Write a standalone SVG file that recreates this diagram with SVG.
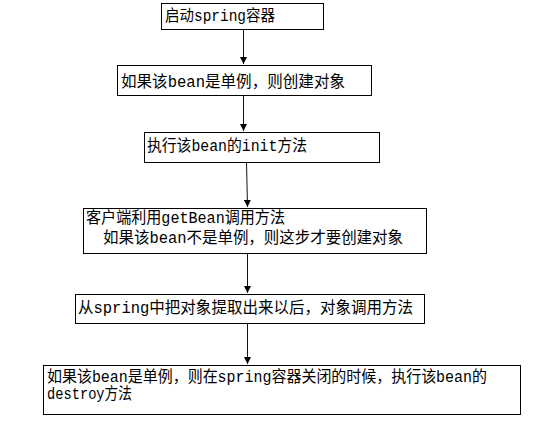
<svg xmlns="http://www.w3.org/2000/svg" width="539" height="425" viewBox="0 0 539 425">
  <style>
    .box { fill: #ffffff; stroke: #000000; stroke-width: 1; }
    .t { font-family: "Liberation Mono", "Noto Sans CJK SC", monospace; font-size: 16px; fill: #000000; }
    .edge { stroke: #111111; stroke-width: 1; fill: none; marker-end: url(#arrow); }
  </style>
  <defs>
    <marker id="arrow" viewBox="0 0 10 10" refX="10" refY="5" markerWidth="8" markerHeight="7" markerUnits="userSpaceOnUse" orient="auto">
      <path d="M0,0 L10,5 L0,10 z" fill="#000000"/>
    </marker>
  </defs>
  <rect width="539" height="425" fill="#ffffff"/>

  <g id="connectors">
    <line class="edge" x1="243.5" y1="29" x2="243.5" y2="64"/>
    <line class="edge" x1="243.5" y1="95" x2="243.5" y2="131"/>
    <line class="edge" x1="246.5" y1="162" x2="247.5" y2="207"/>
    <line class="edge" x1="247.5" y1="253" x2="247.5" y2="293"/>
    <line class="edge" x1="247.5" y1="323" x2="247.5" y2="364"/>
  </g>

  <g id="n1">
    <rect class="box" x="161.5" y="3.5" width="162" height="26"/>
    <text class="t" x="165" y="21" textLength="110" lengthAdjust="spacingAndGlyphs">启动spring容器</text>
  </g>
  <g id="n2">
    <rect class="box" x="117.5" y="65.5" width="254" height="30"/>
    <text class="t" x="121" y="87" textLength="224" lengthAdjust="spacingAndGlyphs">如果该bean是单例，则创建对象</text>
  </g>
  <g id="n3">
    <rect class="box" x="144.5" y="132.5" width="235" height="30"/>
    <text class="t" x="147" y="151" textLength="160" lengthAdjust="spacingAndGlyphs">执行该bean的init方法</text>
  </g>
  <g id="n4">
    <rect class="box" x="83.5" y="208.5" width="343" height="45"/>
    <text class="t" x="86" y="223" textLength="199" lengthAdjust="spacingAndGlyphs">客户端利用getBean调用方法</text>
    <text class="t" x="103" y="243" textLength="300" lengthAdjust="spacingAndGlyphs">如果该bean不是单例，则这步才要创建对象</text>
  </g>
  <g id="n5">
    <rect class="box" x="75.5" y="294.5" width="349" height="29"/>
    <text class="t" x="78" y="313" textLength="335" lengthAdjust="spacingAndGlyphs">从spring中把对象提取出来以后，对象调用方法</text>
  </g>
  <g id="n6">
    <rect class="box" x="43.5" y="365.5" width="477" height="49"/>
    <text class="t" x="47" y="382" textLength="440" lengthAdjust="spacingAndGlyphs">如果该bean是单例，则在spring容器关闭的时候，执行该bean的</text>
    <text class="t" x="47" y="399" textLength="85" lengthAdjust="spacingAndGlyphs">destroy方法</text>
  </g>
</svg>
